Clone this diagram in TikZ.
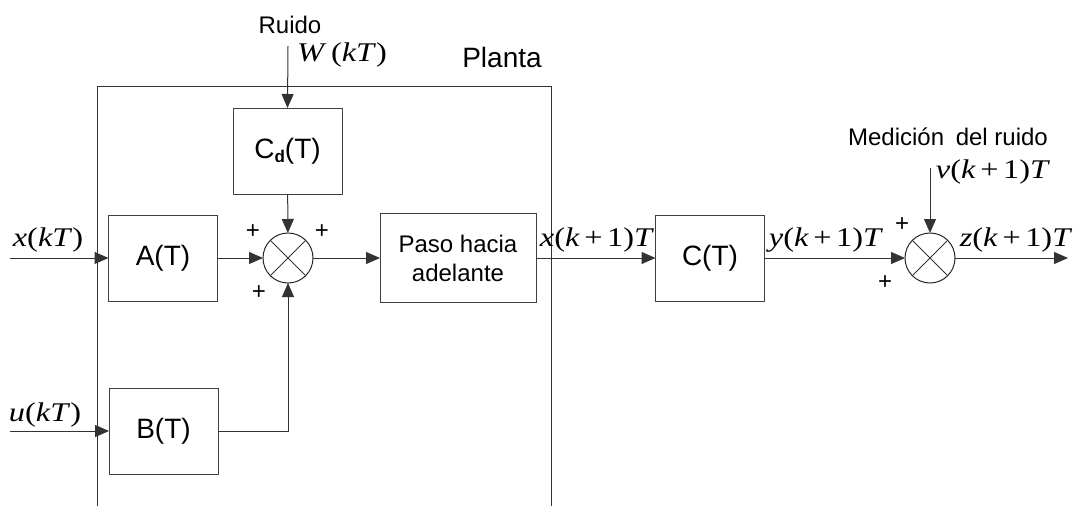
\documentclass[tikz,border=0pt]{standalone}
\usepackage{fontspec}
\setmainfont{Liberation Sans}
\newfontfamily\tms[FakeStretch=1.2]{Liberation Serif}
\usetikzlibrary{arrows.meta}

\begin{document}
\begin{tikzpicture}[x=1pt,y=-1pt,
  every node/.style={inner sep=0pt, outer sep=0pt},
  wire/.style={draw=black!80, line width=1pt},
  arr/.style={wire, -{Triangle[length=14pt,width=12pt]}},
  blk/.style={draw=black!75, line width=1pt, rectangle,
    minimum width=109pt, minimum height=86pt,
    font=\fontsize{28}{30}\selectfont},
  sum/.style={draw=black!85, line width=1pt, circle, minimum size=50pt},
  sig/.style={font=\tms\fontsize{27}{29}\selectfont},
  txt/.style={font=\fontsize{24}{26}\selectfont},
]
\useasboundingbox (0,0) rectangle (1081,506);

% plant frame (open at the bottom)
\coordinate (pbl) at (97,506);
\coordinate (ptl) at (97,86);
\coordinate (ptr) at (551,86);
\coordinate (pbr) at (551,506);
\draw[wire] (pbl) -- (ptl) -- (ptr) -- (pbr);

% blocks
\node[blk] (cd) at (287.5,151) {C\raisebox{-0.3ex}{\fontsize{17}{17}\selectfont\bfseries d}(T)};
\node[blk] (a) at (163,258) {A(T)};
\node[blk] (b) at (163.5,431) {B(T)};
\node[blk, minimum width=156pt, minimum height=89pt, align=center,
      font=\fontsize{24}{29}\selectfont] (paso) at (458,258) {Paso hacia\\adelante};
\node[blk] (c) at (710,258) {C(T)};

% summing junctions
\node[sum] (s1) at (288,258) {};
\draw[wire] (s1.north west) -- (s1.south east) (s1.north east) -- (s1.south west);
\node[sum] (s2) at (930,258) {};
\draw[wire] (s2.north west) -- (s2.south east) (s2.north east) -- (s2.south west);

% free ends
\coordinate (xin) at (10,258);
\coordinate (uin) at (10,431);
\coordinate (rtop) at (288,46);
\coordinate (vtop) at (930,168);
\coordinate (zout) at (1068,258);

% connectors
\draw[arr] (xin) -- (a.west);
\draw[arr] (uin) -- (b.west);
\draw[arr] (a) -- (s1);
\draw[arr] (b.east) -| (s1.south);
\draw[arr] (rtop) -- (cd.north);
\draw[arr] (cd) -- (s1);
\draw[arr] (s1) -- (paso);
\draw[arr] (paso) -- (c);
\draw[arr] (c) -- (s2);
\draw[arr] (vtop) -- (s2.north);
\draw[arr] (s2) -- (zout);

% texts
\node[txt] (ruido) at (290,25) {Ruido};
\node[sig] (wl) at (342,55) {\textit{W}\,(\textit{kT})};
\node[font=\fontsize{28}{30}\selectfont] (planta) at (502,57) {Planta};
\node[sig] (xl) at (48,240) {\textit{x}(\textit{kT})};
\node[sig] (ul) at (45,415) {\textit{u}(\textit{kT})};
\node[sig] (x1l) at (597,240) {\textit{x}(\textit{k}\,+\,1)\textit{T}};
\node[sig] (yl) at (826,240) {\textit{y}(\textit{k}\,+\,1)\textit{T}};
\node[sig] (zl) at (1016,240) {\textit{z}(\textit{k}\,+\,1)\textit{T}};
\node[sig] (vl) at (993,172) {\textit{v}(\textit{k}\,+\,1)\textit{T}};
\node[txt] (med) at (948,137) {Medición\hspace{5pt} del ruido};

% signs
\node[txt] (p1) at (253,232) {+};
\node[txt] (p2) at (322,232) {+};
\node[txt] (p3) at (259,293) {+};
\node[txt] (p4) at (902,225) {+};
\node[txt] (p5) at (885,283) {+};
\end{tikzpicture}
\end{document}
